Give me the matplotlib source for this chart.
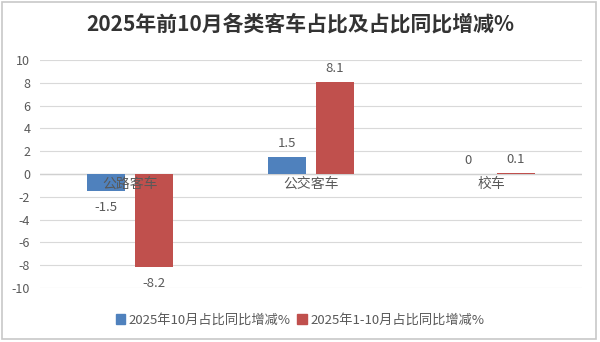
import matplotlib
matplotlib.use("Agg")
import matplotlib.pyplot as plt
import numpy as np
from matplotlib.patches import Rectangle

plt.rcParams['font.family'] = ['Noto Sans CJK SC', 'DejaVu Sans']

title = "2025年前10月各类客车占比及占比同比增减%"
categories = ["公路客车", "公交客车", "校车"]
series_names = ["2025年10月占比同比增减%", "2025年1-10月占比同比增减%"]
oct_vals = [-1.5, 1.5, 0]
ytd_vals = [-8.2, 8.1, 0.1]
oct_labels = ["-1.5", "1.5", "0"]
ytd_labels = ["-8.2", "8.1", "0.1"]
yticks = [-10, -8, -6, -4, -2, 0, 2, 4, 6, 8, 10]

blue = "#4F81BD"
red = "#C0504D"
txt = "#595959"

fig = plt.figure(figsize=(6, 3.42), dpi=100)
ax = fig.add_axes([40/600, 1-288/342, 542/600, 228/342])

x = np.arange(len(categories))
w = 0.21
off = 0.133
b1 = ax.bar(x - off, oct_vals, w, color=blue, zorder=3)
b2 = ax.bar(x + off, ytd_vals, w, color=red, zorder=3)

for bars, vals, labs in [(b1, oct_vals, oct_labels), (b2, ytd_vals, ytd_labels)]:
    for b, v, l in zip(bars, vals, labs):
        cx = b.get_x() + b.get_width()/2
        if v < 0:
            ax.annotate(l, (cx, v), xytext=(0, -7), textcoords="offset points",
                        ha="center", va="top", fontsize=9.5, color=txt)
        else:
            ax.annotate(l, (cx, v), xytext=(0, 5), textcoords="offset points",
                        ha="center", va="bottom", fontsize=9.5, color=txt)

for xi, c in zip(x, categories):
    ax.annotate(c, (xi, 0), xytext=(0, -2), textcoords="offset points",
                ha="center", va="top", fontsize=10, color=txt, zorder=4)

ax.set_xlim(-0.5, 2.5)
ax.set_ylim(-10, 10)
ax.set_yticks(yticks)
ax.set_yticklabels([str(t) for t in yticks], fontsize=9, color=txt)
ax.set_xticks([])
ax.tick_params(axis='y', length=0, pad=7)
ax.grid(axis='y', color="#D9D9D9", linewidth=0.8, zorder=0)
ax.axhline(0, color="#D0D0D0", linewidth=1.0, zorder=2)
for s in ax.spines.values():
    s.set_visible(False)

fig.text(0.5, 1-24/342, title, ha="center", va="center", fontsize=15,
         fontweight="bold", color="#333333")

leg = fig.legend([Rectangle((0, 0), 1, 1, color=blue), Rectangle((0, 0), 1, 1, color=red)],
                 series_names, loc="center", bbox_to_anchor=(0.5, 1-320/342), ncol=2,
                 frameon=False, fontsize=9.5, handlelength=0.7, handleheight=0.7,
                 handletextpad=0.3, columnspacing=0.5)
for t in leg.get_texts():
    t.set_color(txt)

fig.patches.append(Rectangle((0.004, 0.01), 0.99, 0.985, transform=fig.transFigure,
                             fill=False, edgecolor="#C8C8C8", linewidth=1.2))

fig.savefig("out.png", dpi=100)
